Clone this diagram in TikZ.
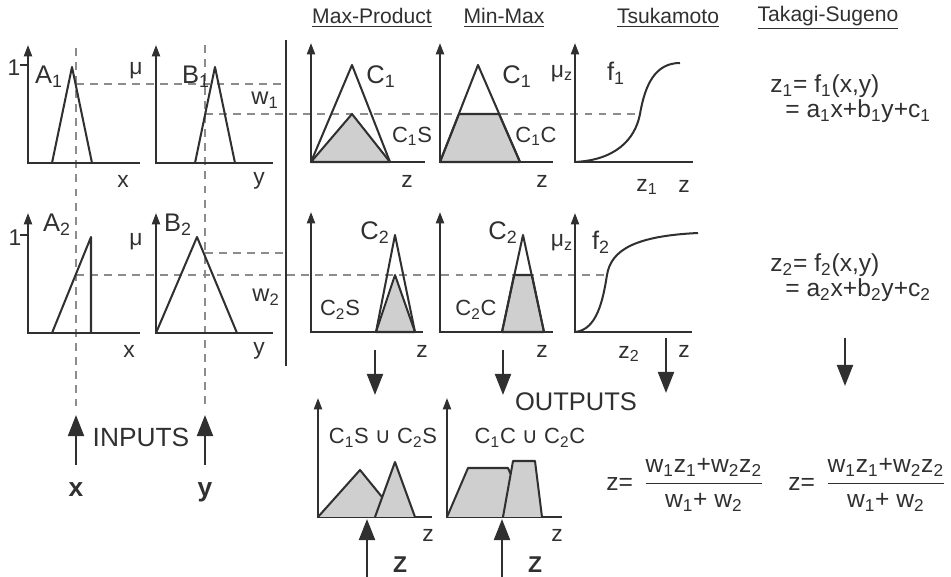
\documentclass[tikz,border=0pt]{standalone}
\usepackage{fontspec}
\setmainfont{Liberation Sans}
\newfontfamily\symfont{DejaVu Sans}
\usetikzlibrary{arrows.meta}
\definecolor{inkgray}{HTML}{303030}
\definecolor{dashgray}{HTML}{8c8c8c}
\definecolor{shadegray}{HTML}{cfcfcf}

\begin{document}
\begin{tikzpicture}[
  x=0.02cm, y=-0.02cm,
  font=\fontsize{13}{15}\selectfont,
  text=inkgray,
  axis/.style={{Triangle[length=6.5pt, width=4.6pt]}-, line width=1.15pt,
               draw=inkgray},
  mf/.style={line width=1.15pt, draw=inkgray, line join=round},
  cut/.style={mf, fill=shadegray},
  guide/.style={draw=dashgray, line width=0.75pt,
                dash pattern=on 4.5pt off 3.5pt},
  flow/.style={-{Triangle[length=12pt, width=9pt]}, line width=1.6pt,
               draw=inkgray},
  ttl/.style={font=\fontsize{12}{14}\selectfont},
  lbl/.style={font=\fontsize{14.5}{16}\selectfont},
  sublbl/.style={font=\fontsize{12.5}{14}\selectfont},
  eqn/.style={font=\fontsize{14}{16}\selectfont, anchor=west, inner sep=0pt},
  heading/.style={font=\fontsize{15}{17}\selectfont},
  inlbl/.style={font=\fontsize{15}{17}\selectfont\bfseries}
]
\useasboundingbox (0,0) rectangle (951,577);

% Dashed guide lines (inputs and firing strengths).
\draw[guide] (76,48)   -- (76,406);
\draw[guide] (205,45)  -- (205,410);
\draw[guide] (76,84)   -- (283,84);
\draw[guide] (205,114) -- (640,114);
\draw[guide] (205,253) -- (283,253);
\draw[guide] (76,275)  -- (607,275);

% Separator between premises and consequents.
\draw[line width=1.7pt, draw=inkgray] (286,40) -- (286,366);

% Axes: x-origin / y-origin / arrow tip / end of abscissa.
\foreach \ox/\oy/\ty/\rx in {28/163/45/140, 156/163/45/273,
    28/333/213/140, 156/333/213/273,
    311/162/43/425, 440/162/43/553, 575/162/43/693,
    311/332/212/423, 440/332/212/553, 575/332/213/692,
    318/517/398/432, 447/517/398/562}
  \draw[axis] (\ox,\ty) -- (\ox,\oy) -- (\rx,\oy);

% Premise membership functions.
\draw[mf] (52,163) -- (72,67) -- (92,163);
\draw[mf] (195,163) -- (215,67) -- (235,163);
\draw[mf] (52,333) -- (91,237) -- (91,333);
\draw[mf] (156,333) -- (197,237) -- (237,333);
\draw[mf] (20,65) -- (28,65);
\draw[mf] (20,235) -- (28,235);

% Max-Product consequents.
\draw[cut] (311,162) -- (352,114) -- (390,162) -- cycle;
\draw[mf] (311,162) -- (352,65) -- (390,162);
\draw[cut] (376,332) -- (395,275) -- (415,332) -- cycle;
\draw[mf] (376,332) -- (395,235) -- (415,332);

% Min-Max consequents.
\draw[cut] (440,162) -- (459,114) -- (499,114) -- (520,162) -- cycle;
\draw[mf] (440,162) -- (478,65) -- (520,162);
\draw[cut] (502,332) -- (514,275) -- (532,275) -- (544,332) -- cycle;
\draw[mf] (502,332) -- (523,235) -- (544,332);

% Tsukamoto monotonic consequents.
\draw[mf] (575,162) .. controls (615,160) and (635,140) .. (640,114)
  .. controls (645,85) and (655,63) .. (680,63);
\draw[mf] (575,332) .. controls (597,330) and (603,300) .. (607,275)
  .. controls (611,250) and (635,236) .. (698,233);

% Aggregated outputs.
\fill[shadegray] (318,517) -- (360,470) -- (382,497) -- (395,462)
  -- (415,517) -- cycle;
\draw[mf] (318,517) -- (360,470) -- (382,497);
\draw[mf] (375,517) -- (395,462) -- (415,517);
\fill[shadegray] (447,517) -- (468,468) -- (508,468) -- (510.6,474)
  -- (513,461) -- (535,461) -- (542,517) -- cycle;
\draw[mf] (447,517) -- (468,468) -- (508,468) -- (510.6,474);
\draw[mf] (503,517) -- (513,461) -- (535,461) -- (542,517);

% Column headings.
\node[ttl] (hMP) at (372,18) {\underline{Max-Product}};
\node[ttl] (hMM) at (504,18) {\underline{Min-Max}};
\node[ttl] (hTS) at (668,18) {\underline{Tsukamoto}};
\node[ttl] (hTK) at (828,18) {\underline{Takagi-Sugeno}};

% Premise labels.
\node (one1) at (14,68)  {1};
\node (one2) at (15,238) {1};
\node[lbl] (A1) at (49,77)  {A\textsubscript{1}};
\node[lbl] (B1) at (196,77) {B\textsubscript{1}};
\node[lbl] (A2) at (57,225) {A\textsubscript{2}};
\node[lbl] (B2) at (178,225) {B\textsubscript{2}};
\node (mu1) at (136,71)  {μ};
\node (mu2) at (136,242) {μ};
\node[font=\fontsize{13.5}{15}\selectfont] (w1) at (265,100) {w\textsubscript{1}};
\node[font=\fontsize{13.5}{15}\selectfont] (w2) at (266,297) {w\textsubscript{2}};
\node (x1) at (123,181) {x};
\node (y1) at (259,181) {y};
\node (x2) at (129,351) {x};
\node (y2) at (259,351) {y};

% Consequent labels.
\node[lbl] (C1a) at (381,77)  {C\textsubscript{1}};
\node[sublbl] (C1S) at (412,136) {C\textsubscript{1}S};
\node[lbl] (C1b) at (517,77)  {C\textsubscript{1}};
\node[sublbl] (C1C) at (536,136) {C\textsubscript{1}C};
\node[lbl] (C2a) at (375,233) {C\textsubscript{2}};
\node[sublbl] (C2S) at (340,310) {C\textsubscript{2}S};
\node[lbl] (C2b) at (503,233) {C\textsubscript{2}};
\node[sublbl] (C2C) at (476,310) {C\textsubscript{2}C};
\node (muz1) at (562,74)  {μ\textsubscript{z}};
\node (muz2) at (562,243) {μ\textsubscript{z}};
\node[lbl] (f1) at (616,73)  {f\textsubscript{1}};
\node[lbl] (f2) at (601,242) {f\textsubscript{2}};
\node (z1a) at (407,181) {z};
\node (z1b) at (542,181) {z};
\node (zz1) at (647,187) {z\textsubscript{1}};
\node (z1c) at (684,186) {z};
\node (z2a) at (422,351) {z};
\node (z2b) at (542,351) {z};
\node (zz2) at (629,354) {z\textsubscript{2}};
\node (z2c) at (684,351) {z};
\node (zua) at (428,535) {z};
\node (zub) at (557,535) {z};

% Takagi-Sugeno rule outputs.
\node[eqn] (tk1) at (770,86)
  {z\textsubscript{1}= f\textsubscript{1}(x,y)};
\node[eqn] (tk1b) at (785,111)
  {= a\textsubscript{1}x+b\textsubscript{1}y+c\textsubscript{1}};
\node[eqn] (tk2) at (770,265)
  {z\textsubscript{2}= f\textsubscript{2}(x,y)};
\node[eqn] (tk2b) at (785,290)
  {= a\textsubscript{2}x+b\textsubscript{2}y+c\textsubscript{2}};

% Union labels.
\node[sublbl] (uMP) at (383,438)
  {C\textsubscript{1}S {\symfont ∪} C\textsubscript{2}S};
\node[sublbl] (uMM) at (530,438)
  {C\textsubscript{1}C {\symfont ∪} C\textsubscript{2}C};

% Weighted averages.
\node[eqn] (avgTS) at (606,485)
  {z=\hspace{6pt}$\displaystyle{\hbox{w\textsubscript{1}z\textsubscript{1}+w\textsubscript{2}z\textsubscript{2}}
   \over\hbox{w\textsubscript{1}+ w\textsubscript{2}}}$};
\node[eqn] (avgTK) at (788,485)
  {z=\hspace{6pt}$\displaystyle{\hbox{w\textsubscript{1}z\textsubscript{1}+w\textsubscript{2}z\textsubscript{2}}
   \over\hbox{w\textsubscript{1}+ w\textsubscript{2}}}$};

% Inputs and outputs.
\node[heading] (inputs)  at (141,437) {INPUTS};
\node[heading, font=\fontsize{14.5}{16}\selectfont] (outputs) at (576,402) {OUTPUTS};
\node[inlbl, anchor=base] (xin) at (76,497)  {x};
\node[inlbl, anchor=base] (yin) at (205,497) {y};
\node[inlbl, font=\fontsize{13}{15}\selectfont\bfseries, anchor=base] (Zmp) at (400,573) {Z};
\node[inlbl, font=\fontsize{13}{15}\selectfont\bfseries, anchor=base] (Zmm) at (535,573) {Z};

\coordinate (xtail) at (76,465);   \coordinate (xtip) at (76,415);
\coordinate (ytail) at (205,465);  \coordinate (ytip) at (205,415);
\coordinate (mpA) at (375,350);    \coordinate (mpB) at (375,395);
\coordinate (mmA) at (503,350);    \coordinate (mmB) at (503,395);
\coordinate (tsA) at (666,338);    \coordinate (tsB) at (666,393);
\coordinate (tkA) at (845,338);    \coordinate (tkB) at (845,386);
\coordinate (zmpA) at (367,577);   \coordinate (zmpB) at (367,519);
\coordinate (zmmA) at (502,577);   \coordinate (zmmB) at (502,519);

\draw[flow] (xtail) -- (xtip);
\draw[flow] (ytail) -- (ytip);
\draw[flow] (mpA)   -- (mpB);
\draw[flow] (mmA)   -- (mmB);
\draw[flow] (tsA)   -- (tsB);
\draw[flow] (tkA)   -- (tkB);
\draw[flow] (zmpA)  -- (zmpB);
\draw[flow] (zmmA)  -- (zmmB);

\end{tikzpicture}
\end{document}
